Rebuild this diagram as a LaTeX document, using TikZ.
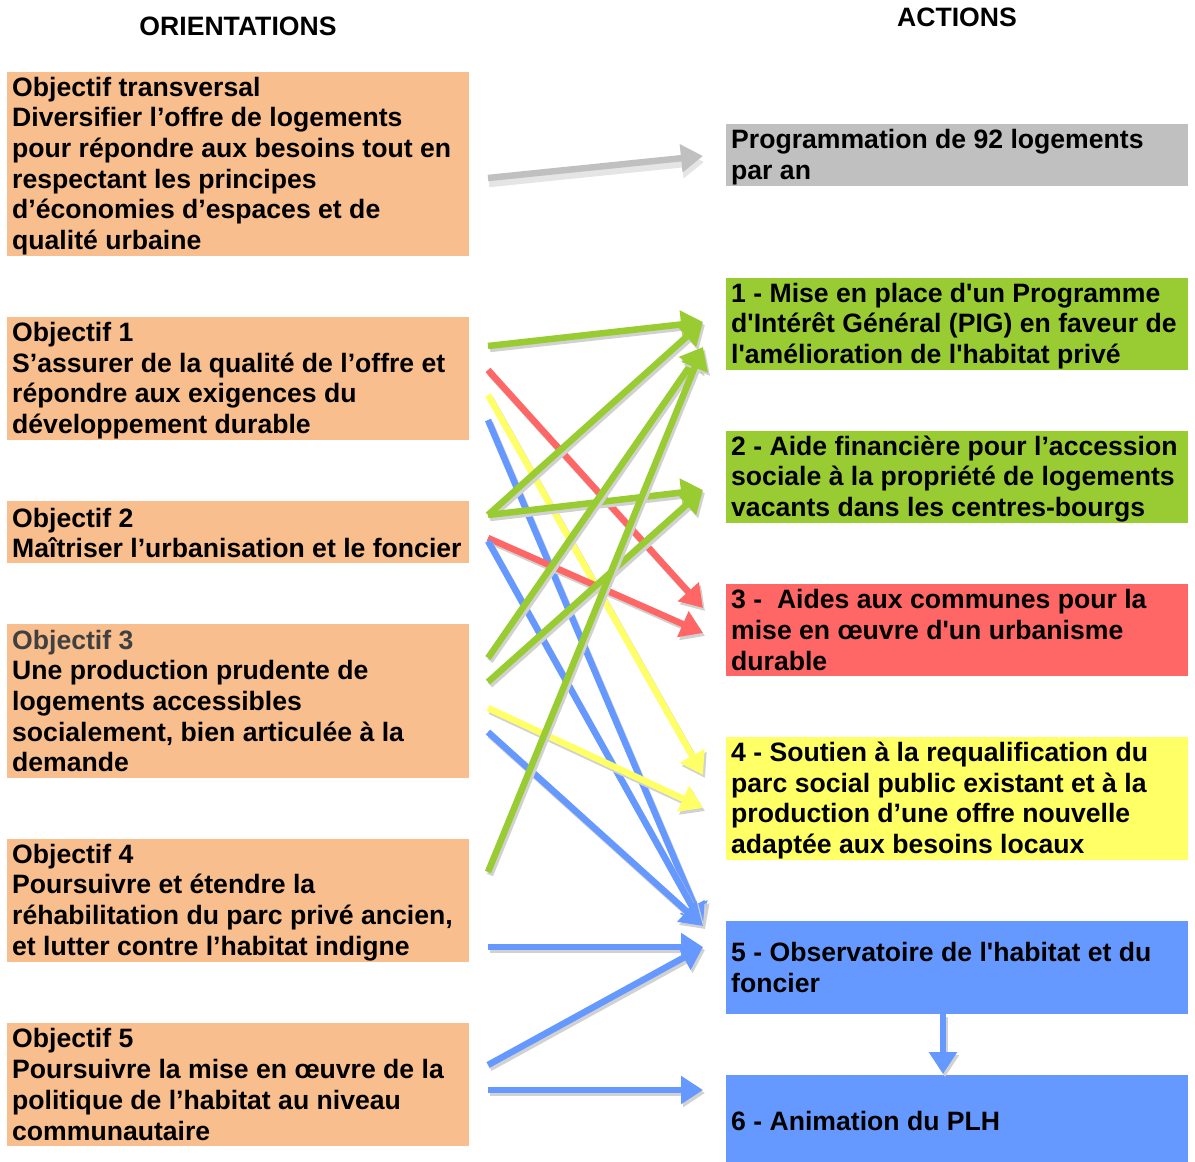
\documentclass[tikz,border=0pt]{standalone}
\usepackage{fontspec}
\setmainfont{Liberation Sans}
\usetikzlibrary{arrows.meta,calc}
\definecolor{oran}{HTML}{F8BE8E}
\definecolor{grn}{HTML}{99CC33}
\definecolor{rd}{HTML}{FF6666}
\definecolor{yl}{HTML}{FFFF66}
\definecolor{bl}{HTML}{6699FF}
\definecolor{gr}{HTML}{C0C0C0}
\definecolor{dgray}{HTML}{404040}
\newcommand\aq{\textquotesingle}
\newcommand\arrw[3]{%
  \draw[shadowarr] ([shift={(2,3)}]#2) -- ([shift={(2,3)}]#3);
  \draw[arr,draw=#1,fill=#1] (#2) -- (#3);}
\tikzset{
  box/.style={draw=none,inner sep=0pt,outer sep=0pt,minimum width=462pt,anchor=north west},
  txt/.style={inner sep=0pt,align=left,anchor=west,font=\fontsize{26.6}{30.7}\selectfont\bfseries},
  hdr/.style={inner sep=0pt,font=\fontsize{26.6}{30.7}\selectfont\bfseries},
  arr/.style={line width=6.5pt,-{Triangle[length=22pt,width=27pt]}},
  shadowarr/.style={line width=6.5pt,draw=black!18,fill=black!18,-{Triangle[length=22pt,width=27pt]}}
}
\begin{document}
\begin{tikzpicture}[x=1pt,y=-1pt]
\useasboundingbox (0,0) rectangle (1195,1162);
% headers
\node[hdr] (h1) at (238,26) {ORIENTATIONS};
\node[hdr] (h2) at (957,17) {ACTIONS};
% left boxes
\node[box,fill=oran,minimum height=184pt] (ot) at (7,72) {};
\node[box,fill=oran,minimum height=123pt] (o1) at (7,317) {};
\node[box,fill=oran,minimum height=62pt] (o2) at (7,501) {};
\node[box,fill=oran,minimum height=154pt] (o3) at (7,624) {};
\node[box,fill=oran,minimum height=123pt] (o4) at (7,839) {};
\node[box,fill=oran,minimum height=123pt] (o5) at (7,1023) {};
\node[txt] (ott) at ([shift={(5,2)}]ot.west) {Objectif transversal\\Diversifier l’offre de logements\\pour répondre aux besoins tout en\\respectant les principes\\d’économies d’espaces et de\\qualité urbaine};
\node[txt] (o1t) at ([shift={(5,2)}]o1.west) {Objectif 1\\S’assurer de la qualité de l’offre et\\répondre aux exigences du\\développement durable};
\node[txt] (o2t) at ([shift={(5,1)}]o2.west) {Objectif 2\\Maîtriser l’urbanisation et le foncier};
\node[txt] (o3t) at ([shift={(5,0)}]o3.west) {{\color{dgray}Objectif 3}\\Une production prudente de\\logements accessibles\\socialement, bien articulée à la\\demande};
\node[txt] (o4t) at ([shift={(5,2)}]o4.west) {Objectif 4\\Poursuivre et étendre la\\réhabilitation du parc privé ancien,\\et lutter contre l’habitat indigne};
\node[txt] (o5t) at ([shift={(5,0)}]o5.west) {Objectif 5\\Poursuivre la mise en œuvre de la\\politique de l’habitat au niveau\\communautaire};
% right boxes
\node[box,fill=gr,minimum height=62pt] (ap) at (726,124) {};
\node[box,fill=grn,minimum height=92pt] (a1) at (726,278) {};
\node[box,fill=grn,minimum height=92pt] (a2) at (726,431) {};
\node[box,fill=rd,minimum height=92pt] (a3) at (726,584) {};
\node[box,fill=yl,minimum height=123pt] (a4) at (726,737) {};
\node[box,fill=bl,minimum height=93pt] (a5) at (726,921) {};
\node[box,fill=bl,minimum height=87pt] (a6) at (726,1075) {};
\node[txt] (apt) at ([shift={(5,2)}]ap.west) {Programmation de 92 logements\\par an};
\node[txt] (a1t) at ([shift={(5,2)}]a1.west) {1 - Mise en place d\aq un Programme\\d\aq Intérêt Général (PIG) en faveur de\\l\aq amélioration de l\aq habitat privé};
\node[txt] (a2t) at ([shift={(5,2)}]a2.west) {2 - Aide financière pour l’accession\\sociale à la propriété de logements\\vacants dans les centres-bourgs};
\node[txt] (a3t) at ([shift={(5,0)}]a3.west) {3 - \ Aides aux communes pour la\\mise en œuvre d\aq un urbanisme\\durable};
\node[txt] (a4t) at ([shift={(5,2)}]a4.west) {4 - Soutien à la requalification du\\parc social public existant et à la\\production d’une offre nouvelle\\adaptée aux besoins locaux};
\node[txt] (a5t) at ([shift={(5,0)}]a5.west) {5 - Observatoire de l\aq habitat et du\\foncier};
\node[txt] (a6t) at ([shift={(5,2)}]a6.west) {6 - Animation du PLH};
% arrow end points
\coordinate (sT) at (488,178);  \coordinate (eP) at (703,156);
\coordinate (s1g) at (488,346); \coordinate (e1a) at (703,322);
\coordinate (s1r) at (488,370); \coordinate (s1y) at (488,395); \coordinate (s1b) at (488,420);
\coordinate (s2g) at (488,515); \coordinate (s2r) at (488,538); \coordinate (s2b) at (488,541);
\coordinate (s3g1) at (488,658); \coordinate (s3g2) at (488,682); \coordinate (s3y) at (488,708); \coordinate (s3b) at (488,732);
\coordinate (s4g) at (488,872); \coordinate (s4b) at (488,947);
\coordinate (s5b1) at (488,1065); \coordinate (s5b2) at (488,1090);
\coordinate (e1b) at (703,347);
\coordinate (e2) at (703,490);
\coordinate (e3a) at (703,608); \coordinate (e3b) at (703,633);
\coordinate (e4a) at (703,775); \coordinate (e4b) at (703,808);
\coordinate (e5a) at (703,926); \coordinate (e5b) at (703,947);
\coordinate (e6) at (703,1090);
\coordinate (v1) at (943,1014); \coordinate (v2) at (943,1074);
% arrows
\draw[shadowarr,draw=black!10,fill=black!10] ([shift={(1,6)}]sT) -- ([shift={(1,6)}]eP);
\draw[arr,draw=gr,fill=gr] (sT) -- (eP);
\arrw{grn}{s1g}{e1a}
\arrw{rd}{s1r}{e3a}
\arrw{yl}{s1y}{e4a}
\arrw{bl}{s1b}{e5a}
\arrw{grn}{s2g}{e1a}
\arrw{grn}{s2g}{e2}
\arrw{rd}{s2r}{e3b}
\arrw{bl}{s2b}{e5a}
\arrw{grn}{s3g1}{e1b}
\arrw{grn}{s3g2}{e2}
\arrw{yl}{s3y}{e4b}
\arrw{bl}{s3b}{e5a}
\arrw{grn}{s4g}{e1b}
\arrw{bl}{s4b}{e5b}
\arrw{bl}{s5b1}{e5b}
\arrw{bl}{s5b2}{e6}
\arrw{bl}{v1}{v2}
\end{tikzpicture}
\end{document}
